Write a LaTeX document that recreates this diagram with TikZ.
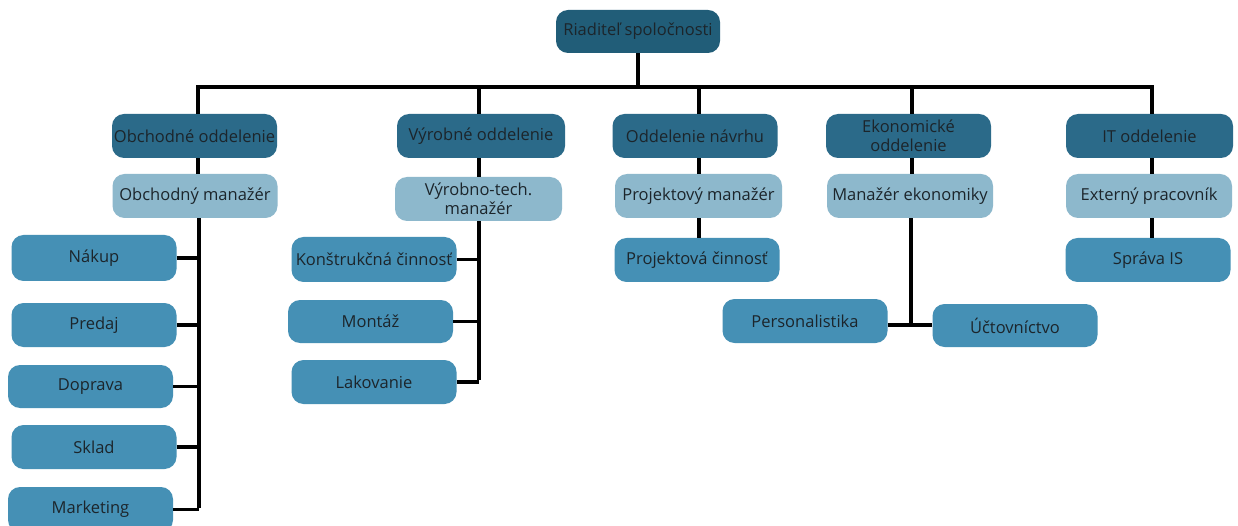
\documentclass[tikz,border=0pt]{standalone}
\usepackage{fontspec}
\setmainfont{Open Sans}
\definecolor{ctop}{HTML}{215D78}
\definecolor{cdept}{HTML}{2B6A89}
\definecolor{cmgr}{HTML}{8DB8CC}
\definecolor{cleaf}{HTML}{4590B5}
\definecolor{ctext}{HTML}{1C252B}
\tikzset{
  box/.style={rounded corners=12pt, inner sep=0pt, text=ctext, align=center,
    font=\fontsize{16.5}{18.5}\selectfont, minimum width=165pt, minimum height=44pt},
  topbox/.style={box, fill=ctop},
  deptbox/.style={box, fill=cdept},
  mgrbox/.style={box, fill=cmgr},
  leafbox/.style={box, fill=cleaf},
  conn/.style={line width=3.8pt, draw=black}
}
\begin{document}
\begin{tikzpicture}[x=1pt,y=-1pt]
\clip (0,0) rectangle (1238,526);
\fill[white] (0,0) rectangle (1238,526);
% nodes
\node[topbox, minimum width=164pt, minimum height=43pt] (top) at (638,31.5) {Riaditeľ spoločnosti};
\node[deptbox] (obch) at (194.5,136) {Obchodné oddelenie};
\node[deptbox, minimum width=168pt] (vyr) at (481,136) {Výrobné oddelenie};
\node[deptbox] (navrh) at (695,136) {Oddelenie návrhu};
\node[deptbox] (ekon) at (908.5,136) {Ekonomické\\oddelenie};
\node[deptbox, minimum width=167pt] (it) at (1149.5,136) {IT oddelenie};
\node[mgrbox] (obchm) at (195,196) {Obchodný manažér};
\node[mgrbox, minimum width=167pt] (vyrm) at (478.5,199) {Výrobno-tech.\\manažér};
\node[mgrbox, minimum width=167pt] (navrhm) at (698.5,196) {Projektový manažér};
\node[mgrbox, minimum width=166pt] (ekonm) at (910,196) {Manažér ekonomiky};
\node[mgrbox, minimum width=166pt] (itm) at (1149,196) {Externý pracovník};
\node[leafbox, minimum height=46pt] (nakup) at (94,258) {Nákup};
\node[leafbox] (predaj) at (94,325) {Predaj};
\node[leafbox, minimum height=43pt] (doprava) at (90.5,386.5) {Doprava};
\node[leafbox] (sklad) at (94,447) {Sklad};
\node[leafbox, minimum height=45pt] (marketing) at (90.5,509.5) {Marketing};
\node[leafbox, minimum height=45pt] (konstr) at (374,259.5) {Konštrukčná činnosť};
\node[leafbox, minimum height=43pt] (montaz) at (370.5,321.5) {Montáž};
\node[leafbox] (lak) at (374,382) {Lakovanie};
\node[leafbox] (projc) at (697,260) {Projektová činnosť};
\node[leafbox] (pers) at (805,321) {Personalistika};
\node[leafbox, minimum height=43pt] (ucto) at (1015,325.5) {Účtovníctvo};
\node[leafbox] (sprava) at (1148,260) {Správa IS};
% coordinates
\coordinate (busT) at (638,87);
\coordinate (busL) at (198,87);
\coordinate (busR) at (1152,87);
\coordinate (dV) at (479,87);
\coordinate (dN) at (699,87);
\coordinate (dE) at (912,87);
\coordinate (spL) at (199,0);
\coordinate (spM) at (479,0);
\coordinate (ej) at (911,325);
% connectors
\draw[conn] (top.south) -- (busT);
\draw[conn] ([xshift=-1.9pt]busL) -- ([xshift=1.9pt]busR);
\draw[conn] (busL) -- (busL |- obch.north);
\draw[conn] (dV) -- (dV |- vyr.north);
\draw[conn] (dN) -- (dN |- navrh.north);
\draw[conn] (dE) -- (dE |- ekon.north);
\draw[conn] (busR) -- (busR |- it.north);
\draw[conn] (obch.south -| busL) -- (obchm.north -| busL);
\draw[conn] (vyr.south -| dV) -- (vyrm.north -| dV);
\draw[conn] (navrh.south -| dN) -- (navrhm.north -| dN);
\draw[conn] (ekon.south -| dE) -- (ekonm.north -| dE);
\draw[conn] (it.south -| busR) -- (itm.north -| busR);
% Obchodne spine
\draw[conn] (obchm.south -| spL) -- ([yshift=1.9pt]marketing.east -| spL);
\foreach \n in {nakup,predaj,doprava,sklad,marketing}{
  \draw[conn] (\n.east) -- (\n.east -| spL);
}
% Vyrobne spine
\draw[conn] (vyrm.south -| spM) -- ([yshift=1.9pt]lak.east -| spM);
\foreach \n in {konstr,montaz,lak}{
  \draw[conn] (\n.east) -- (\n.east -| spM);
}
% navrh
\draw[conn] (navrhm.south -| dN) -- (projc.north -| dN);
% ekonomicke
\draw[conn] (ekonm.south -| ej) -- (ej);
\draw[conn] (pers.east |- ej) -- (ucto.west |- ej);
% IT
\draw[conn] (itm.south -| busR) -- (sprava.north -| busR);
\end{tikzpicture}
\end{document}
